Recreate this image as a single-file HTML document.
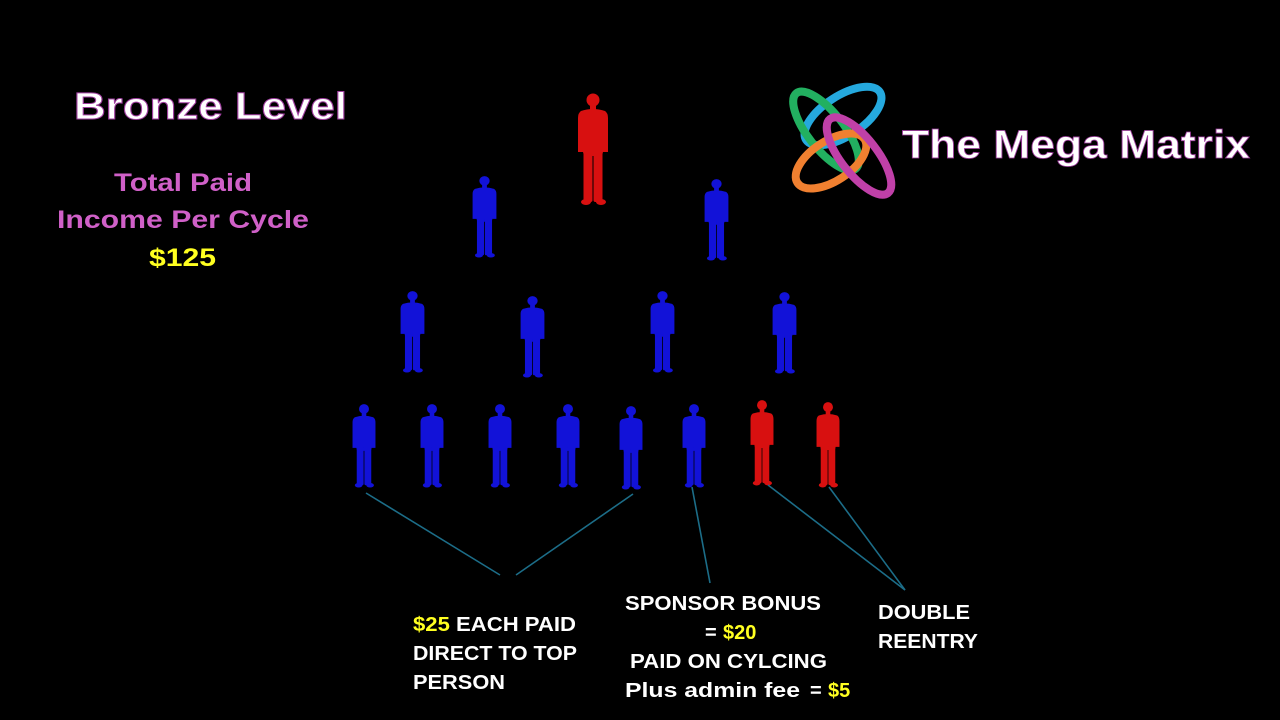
<!DOCTYPE html>
<html><head><meta charset="utf-8"><style>
html,body{margin:0;padding:0;background:#000;}
svg{display:block}
text{font-family:"Liberation Sans",sans-serif;font-weight:bold}
</style></head><body>
<svg width="1280" height="720" viewBox="0 0 1280 720" xmlns="http://www.w3.org/2000/svg">
<defs>
<symbol id="p" viewBox="0 0 34 115" preserveAspectRatio="none">
<circle cx="17" cy="8" r="6.5"/>
<rect x="14" y="12" width="6" height="8"/>
<path d="M5 19 Q17 15 29 19 Q32 21 32 26 L32 60 L27 60 L26 64 L8 64 L7 60 L2 60 L2 26 Q2 21 5 19z"/>
<rect x="7.5" y="58" width="9" height="52" rx="2"/>
<rect x="17.5" y="58" width="9" height="52" rx="2"/>
<ellipse cx="10" cy="110" rx="5" ry="3"/>
<ellipse cx="25" cy="110" rx="5" ry="3"/>
</symbol>
</defs>
<rect width="1280" height="720" fill="#000"/>
<use href="#p" x="576" y="92" width="34" height="115" fill="#d81010"/>
<g fill="#1212d8">
<use href="#p" x="471" y="175" width="27" height="84"/>
<use href="#p" x="703" y="178" width="27" height="84"/>
<use href="#p" x="399" y="290" width="27" height="84"/>
<use href="#p" x="519" y="295" width="27" height="84"/>
<use href="#p" x="649" y="290" width="27" height="84"/>
<use href="#p" x="771" y="291" width="27" height="84"/>
<use href="#p" x="351" y="403" width="26" height="86"/>
<use href="#p" x="419" y="403" width="26" height="86"/>
<use href="#p" x="487" y="403" width="26" height="86"/>
<use href="#p" x="555" y="403" width="26" height="86"/>
<use href="#p" x="618" y="405" width="26" height="86"/>
<use href="#p" x="681" y="403" width="26" height="86"/>
</g>
<g fill="#d81010">
<use href="#p" x="749" y="399" width="26" height="88"/>
<use href="#p" x="815" y="401" width="26" height="88"/>
</g>
<g stroke="#1c6d88" stroke-width="1.6" fill="none">
<line x1="366" y1="493" x2="500" y2="575"/>
<line x1="633" y1="494" x2="516" y2="575"/>
<line x1="692" y1="487" x2="710" y2="583"/>
<line x1="768" y1="485" x2="905" y2="590"/>
<line x1="829" y1="487" x2="905" y2="590"/>
</g>
<text x="74" y="119" font-size="38" fill="#fff" stroke="#a040a0" stroke-width="1" textLength="273" lengthAdjust="spacingAndGlyphs">Bronze Level</text>
<g font-size="25" fill="#d060c8">
<text x="114" y="191" textLength="138" lengthAdjust="spacingAndGlyphs">Total Paid</text>
<text x="57" y="228" textLength="252" lengthAdjust="spacingAndGlyphs">Income Per Cycle</text>
</g>
<text x="149" y="266" font-size="25" fill="#ffff20" textLength="67" lengthAdjust="spacingAndGlyphs">$125</text>
<g fill="none" stroke-width="8">
<ellipse cx="843" cy="116" rx="44" ry="20" transform="rotate(-33 843 116)" stroke="#25a9de"/>
<ellipse cx="826" cy="131" rx="18" ry="48" transform="rotate(-38 826 131)" stroke="#22b060"/>
<ellipse cx="831" cy="161" rx="40" ry="20" transform="rotate(-33 831 161)" stroke="#f08030"/>
<ellipse cx="859" cy="156" rx="18" ry="47" transform="rotate(-38 859 156)" stroke="#c040a8"/>
</g>
<text x="902" y="158" font-size="40" fill="#fff" stroke="#a040a0" stroke-width="0.8" textLength="348" lengthAdjust="spacingAndGlyphs">The Mega Matrix</text>
<g font-size="20" fill="#fff">
<text x="413" y="631" textLength="163" lengthAdjust="spacingAndGlyphs"><tspan fill="#ffff20">$25</tspan> EACH PAID</text>
<text x="413" y="660" textLength="164" lengthAdjust="spacingAndGlyphs">DIRECT TO TOP</text>
<text x="413" y="689" textLength="92" lengthAdjust="spacingAndGlyphs">PERSON</text>
<text x="625" y="610" textLength="196" lengthAdjust="spacingAndGlyphs">SPONSOR BONUS</text>
<text x="705" y="639">=</text>
<text x="723" y="639" fill="#ffff20">$20</text>
<text x="630" y="668" textLength="197" lengthAdjust="spacingAndGlyphs">PAID ON CYLCING</text>
<text x="625" y="697" textLength="175" lengthAdjust="spacingAndGlyphs">Plus admin fee</text>
<text x="810" y="697">=</text>
<text x="828" y="697" fill="#ffff20">$5</text>
<text x="878" y="619" textLength="92" lengthAdjust="spacingAndGlyphs">DOUBLE</text>
<text x="878" y="648" textLength="100" lengthAdjust="spacingAndGlyphs">REENTRY</text>
</g>
</svg>
</body></html>
